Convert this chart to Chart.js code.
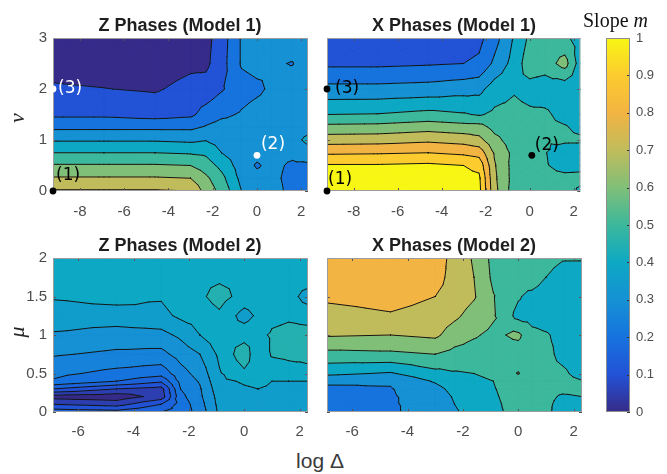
<!DOCTYPE html>
<html>
<head>
<meta charset="utf-8">
<script src="https://cdn.jsdelivr.net/npm/chart.js@4.4.1/dist/chart.umd.min.js"></script>
<style>
  body { margin: 0; background: #fff; }
  #page { position: relative; width: 667px; height: 474px; overflow: hidden; background: #fff;
          font-family: "Liberation Sans", Arial, sans-serif; }
  canvas, .txt { position: absolute; }
  .title { font-weight: bold; font-size: 18px; line-height: 22px; color: #1e1e1e; text-align: center; width: 240px; }
  .ylab { font-family: "Liberation Serif", serif; font-style: italic; font-size: 22px; line-height: 30px;
          width: 40px; text-align: center; color: #262626; transform: rotate(-90deg); }
  .xlab { font-size: 21px; line-height: 24px; color: #3a3a3a; width: 120px; text-align: center; }
  .cblab { font-family: "Liberation Serif", serif; font-size: 20px; line-height: 24px; color: #111; white-space: nowrap; }
</style>
</head>
<body>
<div id="page">
  <canvas id="zm1" width="320" height="220" style="left:0;top:0"></canvas>
  <canvas id="xm1" width="270" height="220" style="left:320px;top:0"></canvas>
  <canvas id="zm2" width="320" height="215" style="left:0;top:230px"></canvas>
  <canvas id="xm2" width="270" height="215" style="left:320px;top:230px"></canvas>
  <canvas id="cbar" width="77" height="474" style="left:590px;top:0"></canvas>

  <div class="txt title" style="left:60px;top:14px">Z Phases (Model 1)</div>
  <div class="txt title" style="left:334px;top:14px">X Phases (Model 1)</div>
  <div class="txt title" style="left:60px;top:234px">Z Phases (Model 2)</div>
  <div class="txt title" style="left:334px;top:234px">X Phases (Model 2)</div>
  <div class="txt ylab" style="left:-3px;top:103px">ν</div>
  <div class="txt ylab" style="left:-3px;top:317px">μ</div>
  <div class="txt xlab" style="left:260px;top:449px">log Δ</div>
  <div class="txt cblab" style="left:583px;top:8px">Slope <i>m</i></div>
</div>

<script>
// grid of log Δ (natural log) and ν / μ values
const logDeltaModel1 = [-9.21, -6.91, -4.61, -3.0, -2.3, -1.6, -0.7, 0, 0.7, 1.6, 2.303];
const nuGrid = [0, 0.25, 0.5, 0.75, 1, 1.25, 1.5, 2, 2.5, 3];
const logDeltaModel2 = [-6.908, -4.61, -3.0, -2.3, -1.6, -0.9, 0, 0.5, 1.0, 1.6, 2.303];
const muGrid = [0, 0.1, 0.2, 0.3, 0.4, 0.5, 0.75, 1, 1.25, 1.5, 1.75, 2];

// slope m, one inner array per log Δ column, values from bottom (ν/μ = 0) to top
const slopeZModel1 = [
  [0.81, 0.71, 0.61, 0.50, 0.39, 0.28, 0.18, 0.11, 0.07, 0.05],
  [0.81, 0.71, 0.61, 0.50, 0.39, 0.28, 0.18, 0.102, 0.06, 0.04],
  [0.81, 0.71, 0.61, 0.50, 0.39, 0.28, 0.16, 0.09, 0.05, 0.04],
  [0.80, 0.70, 0.60, 0.49, 0.38, 0.28, 0.18, 0.13, 0.08, 0.07],
  [0.66, 0.62, 0.55, 0.48, 0.395, 0.31, 0.24, 0.14, 0.08, 0.07],
  [0.57, 0.53, 0.47, 0.40, 0.36, 0.34, 0.28, 0.19, 0.16, 0.15],
  [0.40, 0.37, 0.35, 0.35, 0.35, 0.34, 0.31, 0.26, 0.31, 0.31],
  [0.36, 0.33, 0.29, 0.33, 0.35, 0.35, 0.34, 0.28, 0.33, 0.34],
  [0.35, 0.33, 0.33, 0.34, 0.36, 0.35, 0.35, 0.32, 0.31, 0.34],
  [0.26, 0.26, 0.28, 0.33, 0.37, 0.36, 0.35, 0.35, 0.296, 0.35],
  [0.27, 0.27, 0.28, 0.37, 0.42, 0.37, 0.35, 0.35, 0.35, 0.35]
];
const slopeXModel1 = [
  [1.05, 1.04, 1.01, 0.885, 0.755, 0.63, 0.50, 0.33, 0.18, 0.14],
  [1.05, 1.04, 1.01, 0.89, 0.76, 0.635, 0.505, 0.33, 0.18, 0.14],
  [1.05, 1.04, 1.02, 0.90, 0.78, 0.66, 0.53, 0.34, 0.19, 0.14],
  [1.04, 1.03, 1.00, 0.88, 0.76, 0.64, 0.51, 0.36, 0.20, 0.15],
  [1.03, 1.02, 0.97, 0.86, 0.73, 0.64, 0.49, 0.37, 0.22, 0.17],
  [0.73, 0.72, 0.71, 0.69, 0.63, 0.57, 0.52, 0.45, 0.32, 0.26],
  [0.55, 0.56, 0.56, 0.57, 0.55, 0.54, 0.53, 0.49, 0.44, 0.41],
  [0.54, 0.55, 0.56, 0.55, 0.54, 0.53, 0.52, 0.46, 0.56, 0.52],
  [0.55, 0.53, 0.51, 0.505, 0.51, 0.52, 0.52, 0.44, 0.55, 0.53],
  [0.55, 0.53, 0.46, 0.44, 0.52, 0.51, 0.46, 0.43, 0.64, 0.52],
  [0.48, 0.53, 0.47, 0.43, 0.52, 0.47, 0.45, 0.44, 0.45, 0.46]
];
const slopeZModel2 = [
  [0.18, 0.10, 0.03, 0.15, 0.245, 0.262, 0.305, 0.345, 0.375, 0.405, 0.42, 0.43],
  [0.17, 0.08, 0.02, 0.10, 0.20, 0.235, 0.29, 0.33, 0.375, 0.42, 0.43, 0.44],
  [0.20, 0.15, 0.07, 0.08, 0.16, 0.22, 0.285, 0.335, 0.385, 0.405, 0.43, 0.44],
  [0.22, 0.22, 0.235, 0.25, 0.265, 0.28, 0.32, 0.36, 0.41, 0.43, 0.44, 0.45],
  [0.27, 0.28, 0.29, 0.295, 0.305, 0.32, 0.35, 0.40, 0.42, 0.44, 0.44, 0.445],
  [0.36, 0.365, 0.37, 0.38, 0.39, 0.395, 0.41, 0.43, 0.44, 0.47, 0.44, 0.445],
  [0.385, 0.39, 0.39, 0.395, 0.405, 0.44, 0.48, 0.43, 0.38, 0.43, 0.44, 0.445],
  [0.39, 0.39, 0.395, 0.40, 0.41, 0.43, 0.41, 0.44, 0.41, 0.43, 0.44, 0.445],
  [0.39, 0.39, 0.39, 0.395, 0.40, 0.42, 0.455, 0.455, 0.44, 0.44, 0.445, 0.44],
  [0.39, 0.385, 0.385, 0.39, 0.40, 0.43, 0.46, 0.46, 0.445, 0.43, 0.44, 0.44],
  [0.38, 0.38, 0.385, 0.39, 0.40, 0.44, 0.46, 0.46, 0.44, 0.37, 0.44, 0.44]
];
const slopeXModel2 = [
  [0.22, 0.235, 0.25, 0.27, 0.33, 0.42, 0.57, 0.71, 0.76, 0.82, 0.85, 0.86],
  [0.29, 0.29, 0.29, 0.295, 0.31, 0.39, 0.58, 0.70, 0.79, 0.84, 0.86, 0.87],
  [0.33, 0.34, 0.35, 0.37, 0.41, 0.47, 0.60, 0.72, 0.76, 0.80, 0.84, 0.86],
  [0.39, 0.40, 0.41, 0.43, 0.46, 0.49, 0.57, 0.65, 0.72, 0.76, 0.76, 0.76],
  [0.43, 0.44, 0.45, 0.47, 0.48, 0.50, 0.56, 0.61, 0.66, 0.71, 0.70, 0.69],
  [0.48, 0.485, 0.49, 0.495, 0.50, 0.52, 0.55, 0.58, 0.61, 0.605, 0.58, 0.57],
  [0.53, 0.53, 0.535, 0.54, 0.55, 0.605, 0.55, 0.62, 0.47, 0.51, 0.54, 0.53],
  [0.53, 0.53, 0.53, 0.535, 0.54, 0.54, 0.54, 0.53, 0.46, 0.47, 0.56, 0.54],
  [0.52, 0.52, 0.52, 0.525, 0.53, 0.53, 0.53, 0.51, 0.45, 0.44, 0.50, 0.54],
  [0.46, 0.47, 0.49, 0.52, 0.53, 0.52, 0.47, 0.47, 0.44, 0.43, 0.45, 0.51],
  [0.45, 0.46, 0.50, 0.52, 0.505, 0.46, 0.44, 0.43, 0.42, 0.42, 0.44, 0.51]
];

// contour levels (Model 2 Z phases uses a finer step)
const levelsCoarse = [0, 0.1, 0.2, 0.3, 0.4, 0.5, 0.6, 0.7, 0.8, 0.9, 1.0];
const levelsFine = [0, 0.05, 0.1, 0.15, 0.2, 0.25, 0.3, 0.35, 0.4, 0.45, 0.5, 0.55, 0.6,
                    0.65, 0.7, 0.75, 0.8, 0.85, 0.9, 0.95, 1.0];

const xTicksModel1 = [-8, -6, -4, -2, 0, 2];
const yTicksModel1 = [0, 1, 2, 3];
const xTicksModel2 = [-6, -4, -2, 0, 2];
const yTicksModel2 = [0, 0.5, 1, 1.5, 2];
const colorbarTicks = [0, 0.1, 0.2, 0.3, 0.4, 0.5, 0.6, 0.7, 0.8, 0.9, 1];

// marked points (1), (2), (3)
const markerLabels = ['(1)', '(2)', '(3)'];
const markerLogDeltaZ = [-9.21, 0, -9.21];
const markerLogDeltaX = [-9.21, 0.1, -9.21];
const markerNu = [0, 0.7, 2];

// parula-like colormap, stops at 0, 0.1, ... 1
const cmapStops = ['#372b89', '#2252d6', '#1673de', '#1591d4', '#0da8c4', '#3cb89c',
                   '#80bf78', '#c0bc5c', '#f2b442', '#fccb2f', '#f8f614'];

function hexRgb(h) {
  return [parseInt(h.slice(1, 3), 16), parseInt(h.slice(3, 5), 16), parseInt(h.slice(5, 7), 16)];
}
function cmap(v) {
  const f = Math.max(0, Math.min(1, v)) * (cmapStops.length - 1);
  const i = Math.min(Math.floor(f), cmapStops.length - 2);
  const t = f - i;
  const a = hexRgb(cmapStops[i]), b = hexRgb(cmapStops[i + 1]);
  const c = a.map((x, k) => Math.round(x + (b[k] - x) * t));
  return `rgb(${c[0]},${c[1]},${c[2]})`;
}

// keep the part of a polygon where sign*(v - L) >= 0
function clipPoly(poly, L, sign) {
  if (!isFinite(L)) return poly;
  const out = [];
  for (let i = 0; i < poly.length; i++) {
    const a = poly[i], b = poly[(i + 1) % poly.length];
    const ina = sign * (a[2] - L) >= 0, inb = sign * (b[2] - L) >= 0;
    if (ina) out.push(a);
    if (ina !== inb) {
      const t = (L - a[2]) / (b[2] - a[2]);
      out.push([a[0] + t * (b[0] - a[0]), a[1] + t * (b[1] - a[1]), L]);
    }
  }
  return out;
}

function buildTriangles(xs, ys, z) {
  const tris = [];
  for (let i = 0; i < xs.length - 1; i++) {
    for (let j = 0; j < ys.length - 1; j++) {
      const p = [[xs[i], ys[j], z[i][j]], [xs[i + 1], ys[j], z[i + 1][j]],
                 [xs[i + 1], ys[j + 1], z[i + 1][j + 1]], [xs[i], ys[j + 1], z[i][j + 1]]];
      const m = [(xs[i] + xs[i + 1]) / 2, (ys[j] + ys[j + 1]) / 2,
                 (p[0][2] + p[1][2] + p[2][2] + p[3][2]) / 4];
      for (let k = 0; k < 4; k++) tris.push([p[k], p[(k + 1) % 4], m]);
    }
  }
  return tris;
}

// filled contour + lines, drawn through the chart scales
const contourPlugin = {
  id: 'contour',
  beforeDatasetsDraw(chart, args, opts) {
    const { ctx, chartArea: a } = chart;
    const sx = chart.scales.x, sy = chart.scales.y;
    const px = q => [sx.getPixelForValue(q[0]), sy.getPixelForValue(q[1])];
    const tris = buildTriangles(opts.xs, opts.ys, opts.z);
    const levels = opts.levels;

    ctx.save();
    ctx.beginPath();
    ctx.rect(a.left, a.top, a.width, a.height);
    ctx.clip();

    for (let k = 0; k < levels.length; k++) {
      const lo = k === 0 ? -Infinity : levels[k];
      const hi = k === levels.length - 1 ? Infinity : levels[k + 1];
      const col = cmap(levels[k]);
      ctx.beginPath();
      let any = false;
      for (const t of tris) {
        const poly = clipPoly(clipPoly(t, lo, 1), hi, -1);
        if (poly.length < 3) continue;
        any = true;
        poly.forEach((q, n) => {
          const [X, Y] = px(q);
          if (n) ctx.lineTo(X, Y); else ctx.moveTo(X, Y);
        });
        ctx.closePath();
      }
      if (!any) continue;
      ctx.fillStyle = col;
      ctx.strokeStyle = col;
      ctx.lineWidth = 0.8;
      ctx.fill();
      ctx.stroke();
    }

    ctx.strokeStyle = '#141414';
    ctx.lineWidth = 1;
    ctx.lineCap = 'round';
    ctx.beginPath();
    for (const L of levels) {
      for (const t of tris) {
        const pts = [];
        for (let e = 0; e < 3; e++) {
          const p = t[e], q = t[(e + 1) % 3];
          if ((p[2] >= L) !== (q[2] >= L)) {
            const s = (L - p[2]) / (q[2] - p[2]);
            pts.push(px([p[0] + s * (q[0] - p[0]), p[1] + s * (q[1] - p[1])]));
          }
        }
        if (pts.length === 2) {
          ctx.moveTo(pts[0][0], pts[0][1]);
          ctx.lineTo(pts[1][0], pts[1][1]);
        }
      }
    }
    ctx.stroke();
    ctx.restore();

    // box and inward ticks, MATLAB style
    ctx.save();
    ctx.strokeStyle = '#555';
    ctx.lineWidth = 1;
    ctx.beginPath();
    sx.ticks.forEach(t => {
      const X = Math.round(sx.getPixelForValue(t.value)) + 0.5;
      ctx.moveTo(X, a.bottom); ctx.lineTo(X, a.bottom - 3);
      ctx.moveTo(X, a.top); ctx.lineTo(X, a.top + 3);
    });
    sy.ticks.forEach(t => {
      const Y = Math.round(sy.getPixelForValue(t.value)) + 0.5;
      ctx.moveTo(a.left, Y); ctx.lineTo(a.left + 3, Y);
      ctx.moveTo(a.right, Y); ctx.lineTo(a.right - 3, Y);
    });
    ctx.stroke();
    ctx.strokeStyle = '#9c9c9c';
    ctx.strokeRect(a.left + 0.5, a.top + 0.5, a.width - 1, a.height - 1);
    ctx.restore();
  },
  afterDatasetsDraw(chart, args, opts) {
    if (!opts.labels) return;
    const { ctx } = chart;
    const meta = chart.getDatasetMeta(0);
    ctx.save();
    ctx.font = '17px "DejaVu Sans"';
    ctx.textBaseline = 'middle';
    ctx.textAlign = 'left';
    meta.data.forEach((pt, i) => {
      ctx.fillStyle = opts.labelColors[i];
      ctx.fillText(opts.labels[i], pt.x + opts.labelOffsets[i][0], pt.y + opts.labelOffsets[i][1]);
    });
    ctx.restore();
  }
};

const tickFont = { family: '"Liberation Sans", Arial, sans-serif', size: 15 };
const tickColor = '#4d4d4d';

function makePanel(id, cfg) {
  const canvas = document.getElementById(id);
  const H = canvas.height, W = canvas.width;
  const points = cfg.markerX ? cfg.markerX.map((x, i) => ({ x: x, y: cfg.markerY[i] })) : [];
  return new Chart(canvas, {
    type: 'scatter',
    data: {
      datasets: [{
        data: points,
        pointRadius: 3.4,
        pointBorderWidth: 0,
        pointBackgroundColor: cfg.dotColors || '#000',
        clip: false
      }]
    },
    options: {
      responsive: false,
      animation: false,
      events: [],
      layout: { padding: { left: 0, top: cfg.area.top, right: W - cfg.area.right, bottom: 0 } },
      plugins: {
        legend: { display: false },
        tooltip: { enabled: false },
        contour: {
          xs: cfg.xs, ys: cfg.ys, z: cfg.z, levels: cfg.levels,
          labels: cfg.markerX ? markerLabels : null,
          labelColors: cfg.labelColors, labelOffsets: cfg.labelOffsets
        }
      },
      scales: {
        x: {
          type: 'linear', min: cfg.xs[0], max: cfg.xs[cfg.xs.length - 1],
          afterBuildTicks: s => { s.ticks = cfg.xTicks.map(v => ({ value: v })); },
          afterFit: s => { s.height = H - cfg.area.bottom; },
          grid: { display: false, drawTicks: false }, border: { display: false },
          ticks: { color: tickColor, font: tickFont, padding: cfg.xPad, maxRotation: 0, callback: v => String(v) }
        },
        y: {
          type: 'linear', min: cfg.ys[0], max: cfg.ys[cfg.ys.length - 1],
          afterBuildTicks: s => { s.ticks = cfg.yTicks.map(v => ({ value: v })); },
          afterFit: s => { s.width = cfg.area.left; },
          grid: { display: false, drawTicks: false }, border: { display: false },
          ticks: { display: cfg.showY, color: tickColor, font: tickFont, padding: 6, callback: v => String(v) }
        }
      }
    },
    plugins: [contourPlugin]
  });
}

makePanel('zm1', {
  xs: logDeltaModel1, ys: nuGrid, z: slopeZModel1, levels: levelsCoarse,
  xTicks: xTicksModel1, yTicks: yTicksModel1, showY: true, xPad: 12,
  area: { left: 53, top: 38, right: 308, bottom: 191 },
  markerX: markerLogDeltaZ, markerY: markerNu,
  dotColors: ['#000', '#fff', '#fff'], labelColors: ['#000', '#fff', '#fff'],
  labelOffsets: [[3, -15], [4, -11], [5, 0]]
});
makePanel('xm1', {
  xs: logDeltaModel1, ys: nuGrid, z: slopeXModel1, levels: levelsCoarse,
  xTicks: xTicksModel1, yTicks: yTicksModel1, showY: false, xPad: 12,
  area: { left: 7, top: 38, right: 262, bottom: 191 },
  markerX: markerLogDeltaX, markerY: markerNu,
  dotColors: ['#000', '#000', '#000'], labelColors: ['#000', '#000', '#000'],
  labelOffsets: [[1, -11], [3, -10], [8, 0]]
});
makePanel('zm2', {
  xs: logDeltaModel2, ys: muGrid, z: slopeZModel2, levels: levelsFine,
  xTicks: xTicksModel2, yTicks: yTicksModel2, showY: true, xPad: 11,
  area: { left: 53, top: 28, right: 308, bottom: 182 }
});
makePanel('xm2', {
  xs: logDeltaModel2, ys: muGrid, z: slopeXModel2, levels: levelsCoarse,
  xTicks: xTicksModel2, yTicks: yTicksModel2, showY: false, xPad: 11,
  area: { left: 7, top: 28, right: 262, bottom: 182 }
});

// colour bar: one floating bar from 0 to 1 filled with the colormap
const colorbarFrame = {
  id: 'cbframe',
  afterDatasetsDraw(chart) {
    const { ctx, chartArea: a } = chart;
    const sy = chart.scales.y;
    ctx.save();
    ctx.strokeStyle = '#333';
    ctx.lineWidth = 1;
    ctx.beginPath();
    sy.ticks.forEach(t => {
      const Y = Math.round(sy.getPixelForValue(t.value)) + 0.5;
      ctx.moveTo(a.right, Y); ctx.lineTo(a.right - 3, Y);
    });
    ctx.stroke();
    ctx.strokeStyle = '#8c8c8c';
    ctx.strokeRect(a.left + 0.5, a.top + 0.5, a.width - 1, a.height - 1);
    ctx.restore();
  }
};

new Chart(document.getElementById('cbar'), {
  type: 'bar',
  data: {
    labels: ['m'],
    datasets: [{
      data: [[0, 1]],
      borderWidth: 0,
      barPercentage: 1,
      categoryPercentage: 1,
      backgroundColor: c => {
        const a = c.chart.chartArea;
        if (!a) return cmapStops[0];
        const g = c.chart.ctx.createLinearGradient(0, a.bottom, 0, a.top);
        cmapStops.forEach((col, i) => g.addColorStop(i / (cmapStops.length - 1), col));
        return g;
      }
    }]
  },
  options: {
    responsive: false,
    animation: false,
    events: [],
    layout: { padding: { left: 16, top: 38, right: 0, bottom: 62 } },
    plugins: { legend: { display: false }, tooltip: { enabled: false } },
    scales: {
      x: { display: false },
      y: {
        position: 'right', min: 0, max: 1,
        afterBuildTicks: s => { s.ticks = colorbarTicks.map(v => ({ value: v })); },
        afterFit: s => { s.width = 37; },
        grid: { display: false, drawTicks: false }, border: { display: false },
        ticks: { color: tickColor, font: { family: '"Liberation Sans", Arial, sans-serif', size: 13 },
                 padding: 6, callback: v => String(v) }
      }
    }
  },
  plugins: [colorbarFrame]
});
</script>
</body>
</html>
